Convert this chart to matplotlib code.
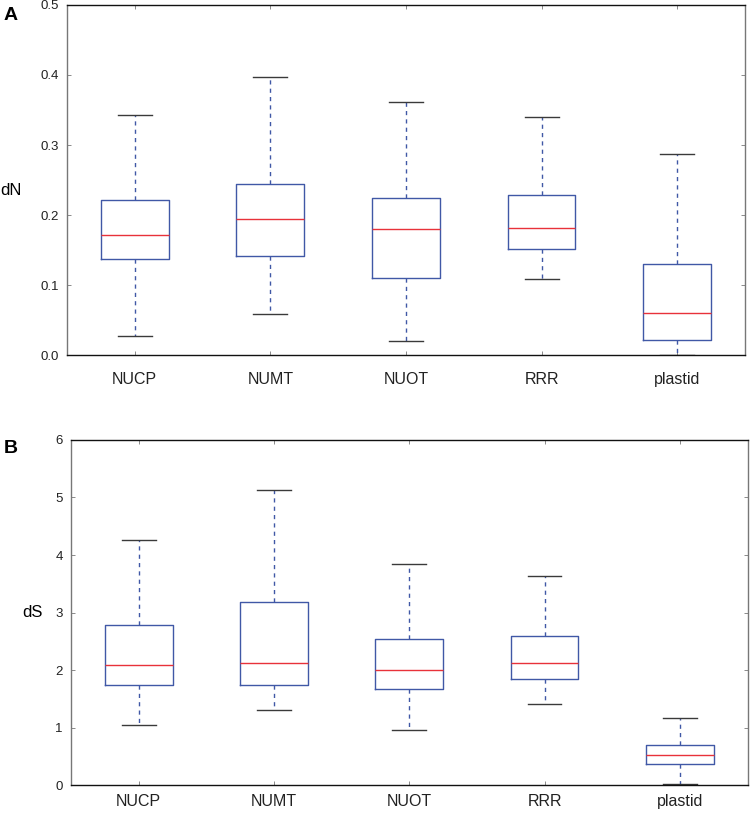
import matplotlib
matplotlib.use('Agg')
import matplotlib.pyplot as plt

plt.rcParams['font.family'] = ['Liberation Sans', 'DejaVu Sans']

groups = ['NUCP', 'NUMT', 'NUOT', 'RRR', 'plastid']

# panel A: dN  (lower whisker, Q1, median, Q3, upper whisker)
dn_low = [0.028, 0.059, 0.021, 0.109, 0.0]
dn_q1 = [0.138, 0.142, 0.110, 0.151, 0.022]
dn_med = [0.172, 0.195, 0.180, 0.181, 0.061]
dn_q3 = [0.221, 0.244, 0.225, 0.228, 0.130]
dn_high = [0.343, 0.397, 0.361, 0.340, 0.287]

# panel B: dS
ds_low = [1.05, 1.30, 0.96, 1.41, 0.03]
ds_q1 = [1.75, 1.75, 1.67, 1.84, 0.37]
ds_med = [2.09, 2.13, 2.00, 2.13, 0.52]
ds_q3 = [2.78, 3.18, 2.55, 2.59, 0.70]
ds_high = [4.26, 5.13, 3.85, 3.63, 1.17]

box_col = '#4058a6'
med_col = '#e8323a'
cap_col = '#3a3a3a'


def draw_panel(ax, low, q1, med, q3, high, ylim, yticks, ylabel, fmt, xpad, label_y):
    stats = []
    for i in range(len(groups)):
        stats.append({'whislo': low[i], 'q1': q1[i], 'med': med[i],
                      'q3': q3[i], 'whishi': high[i], 'fliers': []})
    ax.bxp(stats, positions=range(1, len(groups) + 1), widths=0.5,
           showfliers=False, capwidths=0.25,
           boxprops=dict(color=box_col, linewidth=1.0),
           medianprops=dict(color=med_col, linewidth=1.0),
           whiskerprops=dict(color=box_col, linewidth=1.0, linestyle=(0, (3, 3))),
           capprops=dict(color=cap_col, linewidth=1.0))
    ax.set_xlim(0.5, 5.5)
    ax.set_ylim(*ylim)
    ax.set_yticks(yticks)
    ax.set_yticklabels([fmt.format(v) for v in yticks], fontsize=9.5)
    ax.set_xticks(range(1, len(groups) + 1))
    ax.set_xticklabels(groups, fontsize=11.5)
    ax.tick_params(direction='in', top=True, right=True, length=3, width=0.6,
                   colors='#777777', labelcolor='#222222')
    ax.tick_params(axis='x', pad=xpad)
    ax.tick_params(axis='y', pad=6)
    for side in ['top', 'bottom']:
        ax.spines[side].set_linewidth(1.0)
        ax.spines[side].set_color('#111111')
    for side in ['left', 'right']:
        ax.spines[side].set_linewidth(1.0)
        ax.spines[side].set_color('#777777')
    ax.set_ylabel(ylabel, rotation=0, fontsize=12, va='center', ha='left')
    ax.yaxis.set_label_coords(-0.098, label_y)


fig = plt.figure(figsize=(7.5, 8.13), dpi=100)
axA = fig.add_axes([0.0893, 0.563, 0.904, 0.431])
axB = fig.add_axes([0.0947, 0.034, 0.902, 0.425])

draw_panel(axA, dn_low, dn_q1, dn_med, dn_q3, dn_high,
           (0, 0.5), [0.0, 0.1, 0.2, 0.3, 0.4, 0.5], 'dN', '{:.1f}', 12, 0.47)
draw_panel(axB, ds_low, ds_q1, ds_med, ds_q3, ds_high,
           (0, 6), [0, 1, 2, 3, 4, 5, 6], 'dS', '{:d}', 6, 0.5)
axB.yaxis.set_label_coords(-0.072, 0.5)

fig.text(0.005, 0.975, 'A', fontsize=14, fontweight='bold')
fig.text(0.005, 0.443, 'B', fontsize=14, fontweight='bold')

fig.savefig('out.png', dpi=100)
